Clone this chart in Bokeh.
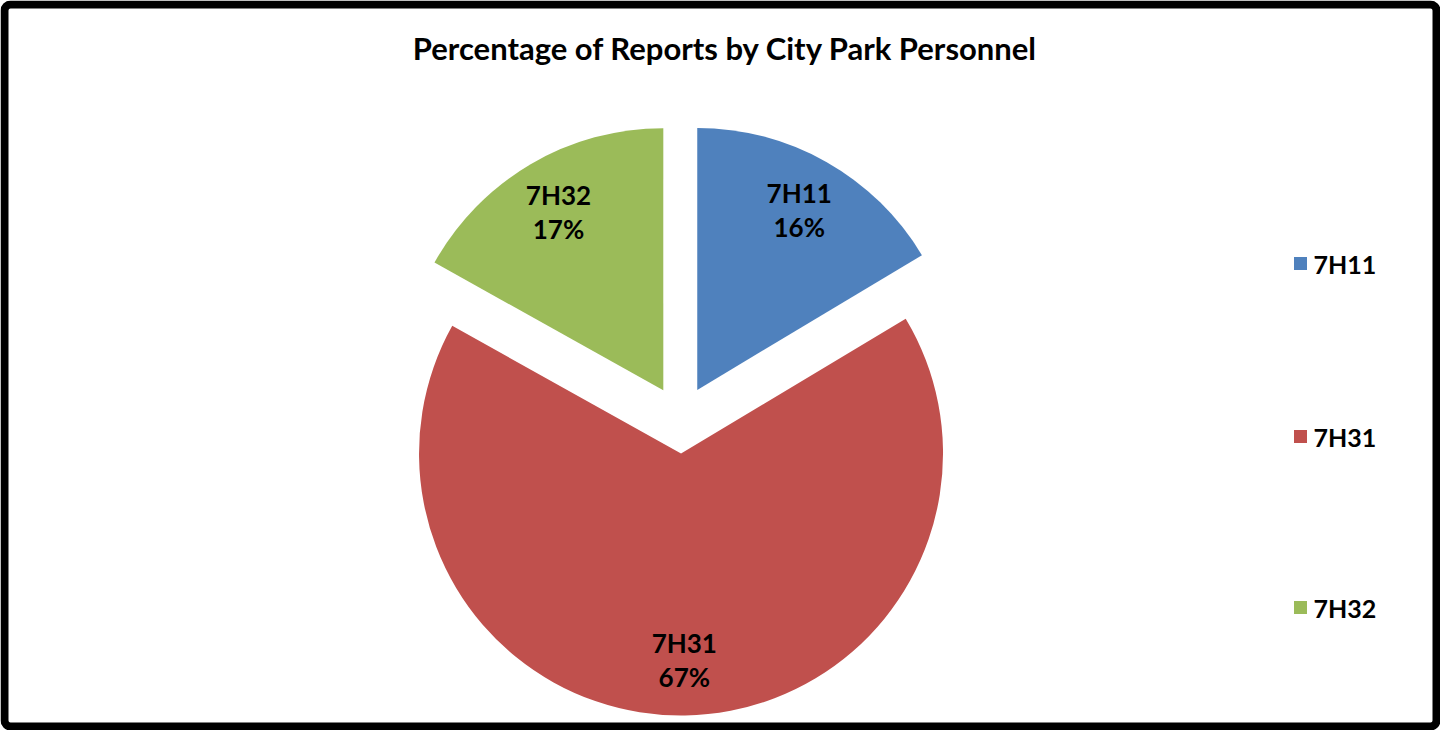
import math
from bokeh.plotting import figure
from bokeh.models import Range1d, BoxAnnotation, ColumnDataSource
from bokeh.core.properties import value
from bokeh.embed import file_html
from bokeh.resources import INLINE

title_text = "Percentage of Reports by City Park Personnel"
names = ["7H11", "7H31", "7H32"]
values = [16.4, 66.7, 16.9]
labels = ["16%", "67%", "17%"]
colors = ["#4F81BD", "#C0504D", "#9BBB59"]

W, H = 1440, 730
FONT = value("Lato")

p = figure(width=W, height=H, output_backend="svg", toolbar_location=None,
           x_range=Range1d(0, W), y_range=Range1d(0, H),
           min_border=0, outline_line_color=None)
p.axis.visible = False
p.grid.visible = False
p.background_fill_color = "white"
p.border_fill_color = "white"

# pie geometry (pixel units)
cx, cy, r, explode = 680, 311, 262, 34
total = sum(values)
starts, ends, xs, ys, lx, ly = [], [], [], [], [], []
acc = 0.0
for v in values:
    a0 = math.pi / 2 - 2 * math.pi * (acc + v) / total
    a1 = math.pi / 2 - 2 * math.pi * acc / total
    mid = (a0 + a1) / 2
    ox = cx + explode * math.cos(mid)
    oy = cy + explode * math.sin(mid)
    starts.append(a0)
    ends.append(a1)
    xs.append(ox)
    ys.append(oy)
    lx.append(ox + 0.79 * r * math.cos(mid))
    ly.append(oy + 0.79 * r * math.sin(mid))
    acc += v

src = ColumnDataSource(dict(x=xs, y=ys, s=starts, e=ends, c=colors,
                            lx=lx, ly_top=[y + 17 for y in ly],
                            ly_bot=[y - 17 for y in ly],
                            name=names, pct=labels))
p.wedge(x="x", y="y", radius=r, start_angle="s", end_angle="e",
        fill_color="c", line_color=None, source=src)

p.text(x="lx", y="ly_top", text="name", source=src, text_font=FONT,
       text_font_style="bold", text_font_size="26px", text_color="black",
       text_align="center", text_baseline="middle")
p.text(x="lx", y="ly_bot", text="pct", source=src, text_font=FONT,
       text_font_style="bold", text_font_size="26px", text_color="black",
       text_align="center", text_baseline="middle")

# title
p.text(x=[725], y=[683], text=[title_text], text_font=FONT,
       text_font_style="bold", text_font_size="31px", text_color="black",
       text_align="center", text_baseline="middle")

# legend
leg_y = [467, 294, 123]
p.rect(x=[1300] * 3, y=leg_y, width=13, height=13, fill_color=colors,
       line_color=None)
p.text(x=[1313] * 3, y=leg_y, text=names, text_font=FONT,
       text_font_style="bold", text_font_size="25px", text_color="black",
       text_align="left", text_baseline="middle")

# frame border
p.add_layout(BoxAnnotation(left=4, right=W - 4, bottom=4, top=H - 4,
                           fill_alpha=0, line_color="black", line_alpha=1.0,
                           line_width=8, border_radius=6))

open("out.html", "w").write(file_html(p, INLINE))
